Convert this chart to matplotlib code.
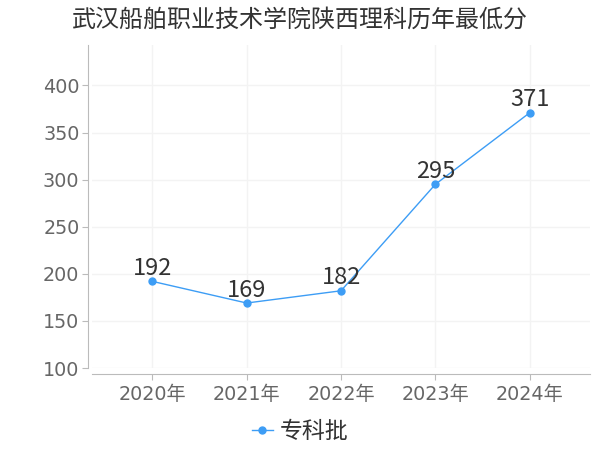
import matplotlib
matplotlib.use("Agg")
import matplotlib.pyplot as plt

plt.rcParams['font.family'] = ['Noto Sans CJK SC', 'DejaVu Sans']

TITLE = "武汉船舶职业技术学院陕西理科历年最低分"
years = ["2020年", "2021年", "2022年", "2023年", "2024年"]
scores = [192, 169, 182, 295, 371]
y_ticks = [100, 150, 200, 250, 300, 350, 400]
series_name = "专科批"
LINE_COLOR = "#3d9df5"
TICK_FONT = ['DejaVu Sans', 'Noto Sans CJK SC']

fig = plt.figure(figsize=(6, 4.5), dpi=100)
ax = fig.add_axes([92 / 600, 1 - 368 / 450, (590 - 92) / 600, (368 - 45) / 450])

x = list(range(len(years)))
ax.plot(x, scores, color=LINE_COLOR, linewidth=1, marker="o", markersize=5,
        label=series_name, zorder=3)
for xi, v in zip(x, scores):
    ax.annotate(str(v), (xi, v), xytext=(0, 1), textcoords="offset points",
                ha="center", va="bottom", fontsize=17, color="#333333")

ax.tick_params(axis="both", colors="#bbbbbb", labelcolor="#666666", labelsize=13.8, length=4)
ax.tick_params(axis="x", pad=4)
ax.tick_params(axis="y", pad=2)
ax.set_xlim(-0.64, 4.64)
ax.set_ylim(100, 443)
ax.set_yticks(y_ticks)
ax.set_xticks(x)
ax.set_xticklabels(years)
ax.grid(True, color="#f3f3f3", linewidth=1)
ax.set_axisbelow(True)

for s in ["top", "right"]:
    ax.spines[s].set_visible(False)
ax.spines["left"].set_color("#bbbbbb")
ax.spines["bottom"].set_color("#bbbbbb")
ax.spines["left"].set_position(("outward", 3))
ax.spines["bottom"].set_position(("outward", 4))

fig.text(0.5, 1 - 20 / 450, TITLE, ha="center", va="center", fontsize=17.3, color="#333333")
fig.legend(loc="center", bbox_to_anchor=(0.5, 1 - 432 / 450), frameon=False,
           fontsize=16.5, handlelength=0.9, handletextpad=0.3, labelcolor="#333333")

fig.canvas.draw()
for t in ax.xaxis.get_major_ticks() + ax.yaxis.get_major_ticks():
    t.label1.set_fontfamily(TICK_FONT)

fig.savefig("out.png", dpi=100)
